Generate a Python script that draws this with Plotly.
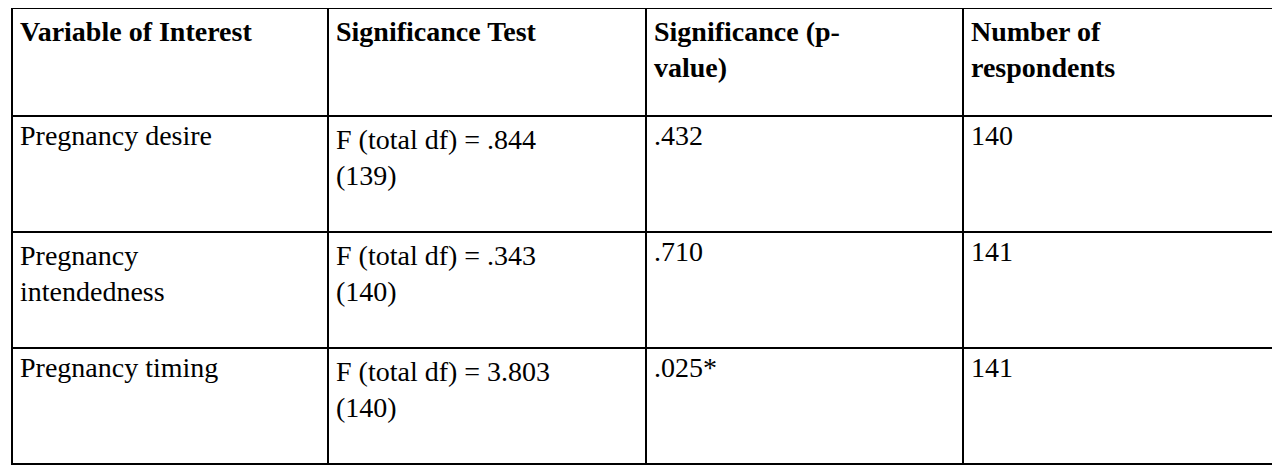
import plotly.graph_objects as go

headers = ["<b>Variable of Interest</b>", "<b>Significance Test</b>",
           "<b>Significance (p-<br>value)</b>", "<b>Number of<br>respondents</b>"]
variables = ["Pregnancy desire", "Pregnancy<br>intendedness", "Pregnancy timing"]
tests = ["F (total df) = .844<br>(139)", "F (total df) = .343<br>(140)",
         "F (total df) = 3.803<br>(140)"]
pvalues = [".432", ".710", ".025*"]
respondents = ["140", "141", "141"]

font = dict(family="Liberation Serif", size=28, color="black")

fig = go.Figure(go.Table(
    columnwidth=[316, 318, 317, 321],
    header=dict(values=headers, align="left", font=font, height=108,
                fill_color="white", line=dict(color="black", width=2)),
    cells=dict(values=[variables, tests, pvalues, respondents], align="left",
               font=font, height=116, fill_color="white",
               line=dict(color="black", width=2)),
))
fig.update_layout(width=1280, height=472, margin=dict(l=4, r=4, t=0, b=0),
                  paper_bgcolor="white")
fig.write_html("out.html")
